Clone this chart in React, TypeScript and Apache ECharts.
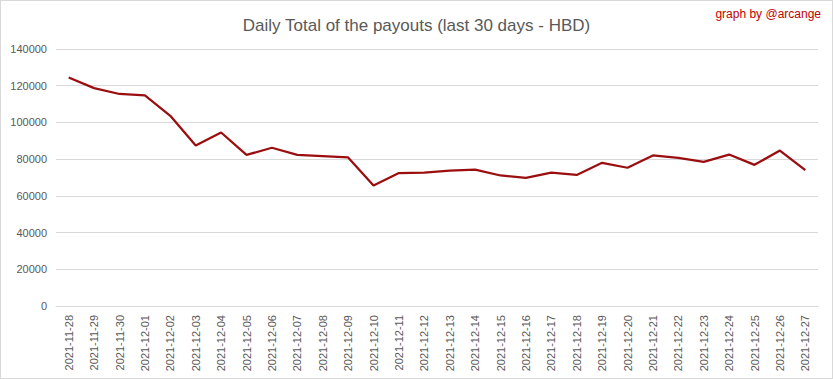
import React, { useEffect, useRef } from "react";
import * as echarts from "echarts";

const dates = [
  "2021-11-28", "2021-11-29", "2021-11-30", "2021-12-01", "2021-12-02", "2021-12-03",
  "2021-12-04", "2021-12-05", "2021-12-06", "2021-12-07", "2021-12-08", "2021-12-09",
  "2021-12-10", "2021-12-11", "2021-12-12", "2021-12-13", "2021-12-14", "2021-12-15",
  "2021-12-16", "2021-12-17", "2021-12-18", "2021-12-19", "2021-12-20", "2021-12-21",
  "2021-12-22", "2021-12-23", "2021-12-24", "2021-12-25", "2021-12-26", "2021-12-27",
];

const payouts = [
  124500, 118700, 115500, 114700, 103600, 87400,
  94500, 82300, 86200, 82300, 81700, 80900,
  65600, 72400, 72700, 73800, 74300, 71100,
  69800, 72700, 71400, 78000, 75300, 82000,
  80700, 78500, 82500, 76900, 84700, 74000,
];

const titleText = "Daily Total of the payouts (last 30 days - HBD)";
const creditText = "graph by @arcange";

export default function App() {
  const ref = useRef<HTMLDivElement>(null);
  useEffect(() => {
    if (!ref.current) return;
    const chart = echarts.init(ref.current, null, { renderer: "svg" });
    const font = "Liberation Sans";
    chart.setOption({
      animation: false,
      backgroundColor: "#ffffff",
      title: {
        text: titleText,
        left: "center",
        top: 11,
        textStyle: { fontFamily: font, fontSize: 17, fontWeight: "normal", color: "#595959" },
      },
      graphic: [
        {
          type: "text",
          right: 11,
          top: 7,
          style: { text: creditText, fontFamily: font, fontSize: 12, fill: "#c00000" },
        },
      ],
      grid: { left: 55, right: 14, top: 48, bottom: 72, containLabel: false },
      xAxis: {
        type: "category",
        data: dates,
        boundaryGap: true,
        axisLine: { show: true, lineStyle: { color: "#d9d9d9" } },
        axisTick: { show: false },
        axisLabel: {
          rotate: 90,
          interval: 0,
          margin: 9,
          fontFamily: font,
          fontSize: 11,
          color: "#595959",
        },
      },
      yAxis: {
        type: "value",
        min: 0,
        max: 140000,
        interval: 20000,
        axisLine: { show: false },
        axisTick: { show: false },
        splitLine: { lineStyle: { color: "#d9d9d9", width: 1 } },
        axisLabel: {
          fontFamily: font,
          fontSize: 11,
          color: "#595959",
          margin: 9,
          formatter: (v: number) => String(v),
        },
      },
      series: [
        {
          type: "line",
          data: payouts,
          symbol: "none",
          lineStyle: { color: "#9b0e10", width: 2.25 },
          itemStyle: { color: "#9b0e10" },
        },
      ],
    });
    return () => chart.dispose();
  }, []);
  return (
    <div
      style={{
        position: "fixed",
        left: 0,
        top: 0,
        width: 833,
        height: 379,
        boxSizing: "border-box",
        border: "1px solid #d9d9d9",
        background: "#fff",
      }}
    >
      <div ref={ref} style={{ width: 831, height: 377 }} />
    </div>
  );
}
